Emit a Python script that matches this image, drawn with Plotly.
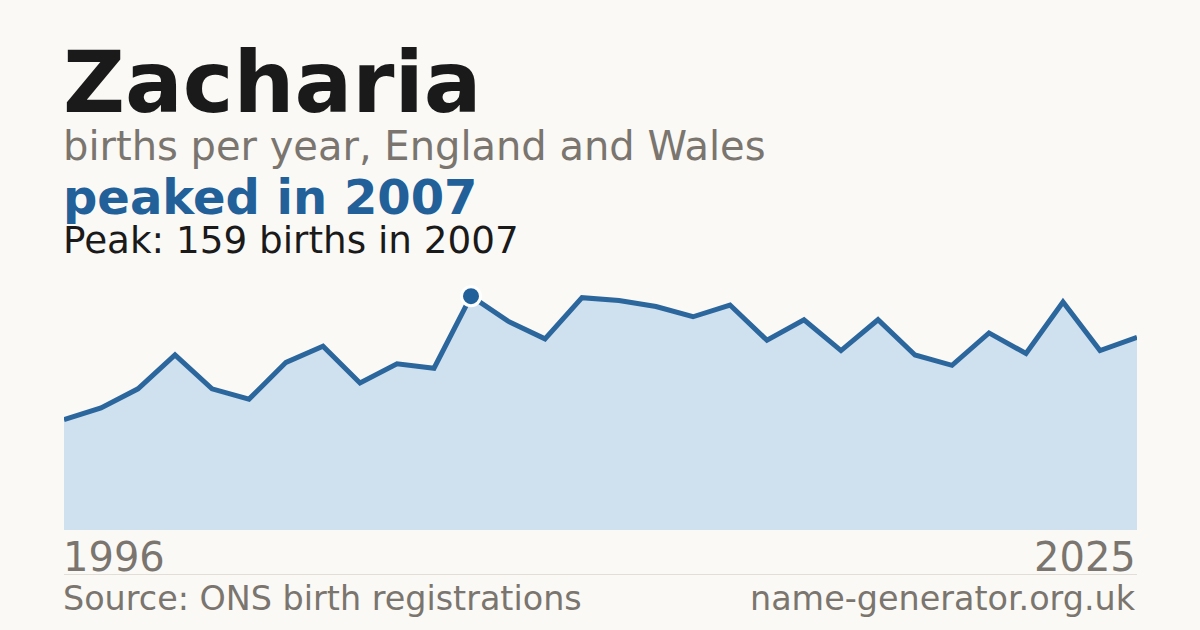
import plotly.graph_objects as go

years = [1996, 1997, 1998, 1999, 2000, 2001, 2002, 2003, 2004, 2005,
         2006, 2007, 2008, 2009, 2010, 2011, 2012, 2013, 2014, 2015,
         2016, 2017, 2018, 2019, 2020, 2021, 2022, 2023, 2024, 2025]
births = [75, 83, 96, 119, 96, 89, 114, 125, 100, 113,
          110, 159, 142, 130, 158, 156, 152, 145, 153, 129,
          143, 122, 143, 119, 112, 134, 120, 155, 122, 131]
peak_year = [2007]
peak_value = [159]

name = "Zacharia"
subtitle = "births per year, England and Wales"
headline = "peaked in 2007"
peak_text = "Peak: 159 births in 2007"
source_text = "Source: ONS birth registrations"
site_text = "name-generator.org.uk"

BG = "#faf9f5"
BLUE = "#22609a"
LINE = "#2b669d"
FILL = "#cfe0ef"
GRAY = "#7a756e"
DARK = "#1a1a1a"
FONT = "DejaVu Sans"

W, H = 1200, 630
X0, X1 = 64, 1137
TX = 62
PT, PB = 280, 530

fig = go.Figure()
fig.add_trace(go.Scatter(
    x=years, y=births, mode="lines",
    line=dict(color=LINE, width=5),
    fill="tozeroy", fillcolor=FILL,
    hoverinfo="skip", showlegend=False,
))
fig.add_trace(go.Scatter(
    x=peak_year, y=peak_value, mode="markers",
    marker=dict(size=19, color=BLUE, line=dict(color="white", width=3)),
    cliponaxis=False, hoverinfo="skip", showlegend=False,
))


def py(baseline, size):
    bottom = baseline + 0.235 * size + 1
    return (H - bottom) / H


def text(t, x, baseline, size, color, bold=False, anchor="left"):
    fig.add_annotation(
        text=f"<b>{t}</b>" if bold else t,
        xref="paper", yref="paper",
        x=x / W, y=py(baseline, size),
        xanchor=anchor, yanchor="bottom",
        showarrow=False, borderpad=0,
        font=dict(family=FONT, size=size, color=color),
    )


text(name, TX, 112, 85.6, DARK, bold=True)
text(subtitle, TX, 160, 40, GRAY)
text(headline, TX, 214, 48, BLUE, bold=True)
text(peak_text, TX, 253, 37.3, DARK)
text(str(years[0]), TX, 571, 40, GRAY)
text(str(years[-1]), X1, 571, 40, GRAY, anchor="right")
text(source_text, TX, 610, 33.4, GRAY)
text(site_text, X1, 610, 33.4, GRAY, anchor="right")

fig.add_shape(type="line", xref="paper", yref="paper",
              x0=X0 / W, x1=X1 / W, y0=(H - 574.5) / H, y1=(H - 574.5) / H,
              line=dict(color="#e2ded6", width=1))

fig.update_layout(
    width=W, height=H,
    margin=dict(l=0, r=0, t=0, b=0),
    paper_bgcolor=BG, plot_bgcolor=BG,
    xaxis=dict(domain=[X0 / W, X1 / W], range=[years[0], years[-1]],
               visible=False, fixedrange=True),
    yaxis=dict(domain=[(H - PB) / H, (H - PT) / H], range=[0, 170],
               visible=False, fixedrange=True),
    font=dict(family=FONT),
)

fig.write_html(
    "out.html",
    config={"displayModeBar": False},
    post_script="document.body.style.margin='0';document.body.style.background='#faf9f5';",
)
